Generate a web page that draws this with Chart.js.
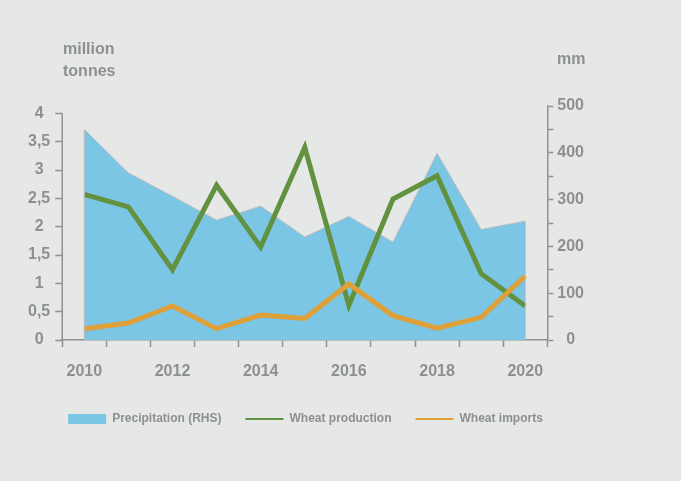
<!DOCTYPE html>
<html lang="en">
<head>
    <meta charset="UTF-8">
    <title>Wheat production, imports and precipitation</title>
    <script src="https://cdn.jsdelivr.net/npm/chart.js"></script>
    <style>
        body { margin: 0; background: #e6e8e8; font-family: "Liberation Sans", Arial, sans-serif; }
        #wrap { position: relative; width: 681px; height: 481px; }
        .unit { position: absolute; color: #8d8f91; font-size: 16px; font-weight: bold; line-height: 22px; }
    </style>
</head>
<body>
    <div id="wrap">
        <canvas id="Chart" width="681" height="481"></canvas>
        <div class="unit" style="left:63px; top:38px;">million<br>tonnes</div>
        <div class="unit" style="left:557px; top:48px;">mm</div>
    </div>

    <script>
        const years = [2010, 2011, 2012, 2013, 2014, 2015, 2016, 2017, 2018, 2019, 2020];
        const precipitation = [450, 357, 307, 256, 286, 220, 264, 209, 399, 236, 254]; // mm, right axis
        const production = [2.57, 2.35, 1.24, 2.73, 1.64, 3.40, 0.61, 2.49, 2.90, 1.17, 0.60]; // million tonnes
        const imports = [0.20, 0.30, 0.60, 0.20, 0.44, 0.38, 0.99, 0.43, 0.21, 0.40, 1.13];
        const leftTicks = [0, 0.5, 1, 1.5, 2, 2.5, 3, 3.5, 4];
        const rightTicks = [0, 50, 100, 150, 200, 250, 300, 350, 400, 450, 500];

        const grey = '#8d8f91';
        const axisGrey = '#8e9092';
        const tickFont = { family: 'Liberation Sans', size: 16, weight: 'bold' };

        // left axis line only up to the top tick, plus grey side edges of the area
        const edges = {
            id: 'edges',
            afterDatasetsDraw(chart) {
                const { ctx, scales: { x, y, y1 } } = chart;
                ctx.save();
                ctx.strokeStyle = axisGrey;
                ctx.lineWidth = 1.5;
                ctx.beginPath();
                ctx.moveTo(x.left, y.getPixelForValue(leftTicks[leftTicks.length - 1]));
                ctx.lineTo(x.left, y.bottom);
                ctx.stroke();
                ctx.strokeStyle = '#b9bbbc';
                ctx.lineWidth = 1;
                [0, years.length - 1].forEach(i => {
                    const px = x.getPixelForValue(i);
                    ctx.beginPath();
                    ctx.moveTo(px, y1.getPixelForValue(precipitation[i]));
                    ctx.lineTo(px, y1.bottom);
                    ctx.stroke();
                });
                ctx.restore();
            }
        };

        const ctx = document.getElementById('Chart');
        new Chart(ctx, {
            type: 'line',
            data: {
                labels: years,
                datasets: [{
                    label: 'Precipitation (RHS)',
                    data: precipitation,
                    yAxisID: 'y1',
                    backgroundColor: '#7bc5e5',
                    borderColor: '#b9bbbc',
                    borderWidth: 1,
                    fill: 'origin',
                    pointRadius: 0,
                    order: 3
                }, {
                    label: 'Wheat production',
                    data: production,
                    yAxisID: 'y',
                    borderColor: '#62923f',
                    borderWidth: 5,
                    pointRadius: 0,
                    order: 2
                }, {
                    label: 'Wheat imports',
                    data: imports,
                    yAxisID: 'y',
                    borderColor: '#dfa037',
                    borderWidth: 5,
                    pointRadius: 0,
                    order: 1
                }]
            },
            options: {
                responsive: false,
                animation: false,
                layout: { padding: { left: 23, right: 93, top: 106, bottom: 46 } },
                plugins: {
                    tooltip: { enabled: false },
                    legend: {
                        position: 'bottom',
                        labels: {
                            usePointStyle: true,
                            pointStyleWidth: 38,
                            boxHeight: 10,
                            padding: 24,
                            color: grey,
                            font: { family: 'Liberation Sans', size: 12, weight: 'bold' },
                            generateLabels: (chart) => chart.data.datasets.map((ds, i) => ({
                                text: ds.label,
                                fillStyle: i === 0 ? ds.backgroundColor : 'rgba(0,0,0,0)',
                                strokeStyle: ds.borderColor,
                                lineWidth: i === 0 ? 0 : 2,
                                pointStyle: i === 0 ? 'rect' : 'line',
                                fontColor: grey,
                                datasetIndex: i,
                                hidden: false
                            }))
                        }
                    }
                },
                scales: {
                    x: {
                        offset: true,
                        afterFit: (axis) => { axis.height = 49; },
                        grid: { offset: true, drawOnChartArea: false, tickLength: 7, tickColor: axisGrey, tickWidth: 1.5 },
                        border: { color: axisGrey, width: 1.5 },
                        ticks: {
                            color: grey,
                            padding: 15,
                            maxRotation: 0,
                            autoSkip: false,
                            font: tickFont,
                            callback: function (v, i) { return i % 2 === 0 ? this.getLabelForValue(v) : ''; }
                        }
                    },
                    y: {
                        position: 'left',
                        min: 0,
                        max: 4.13,
                        afterBuildTicks: (axis) => { axis.ticks = leftTicks.map(v => ({ value: v })); },
                        grid: { drawOnChartArea: false, tickLength: 7, tickColor: axisGrey, tickWidth: 1.5 },
                        border: { display: false },
                        ticks: {
                            color: grey,
                            padding: 5,
                            crossAlign: 'center',
                            font: tickFont,
                            callback: (v) => String(v).replace('.', ',')
                        }
                    },
                    y1: {
                        position: 'right',
                        min: 0,
                        max: 500,
                        afterBuildTicks: (axis) => { axis.ticks = rightTicks.map(v => ({ value: v })); },
                        grid: { drawOnChartArea: false, tickLength: 6, tickColor: axisGrey, tickWidth: 1.5 },
                        border: { color: axisGrey, width: 1.5 },
                        ticks: {
                            color: grey,
                            padding: 4,
                            crossAlign: 'center',
                            font: tickFont,
                            callback: (v) => v % 100 === 0 ? v : ''
                        }
                    }
                }
            },
            plugins: [edges]
        });
    </script>
</body>
</html>
